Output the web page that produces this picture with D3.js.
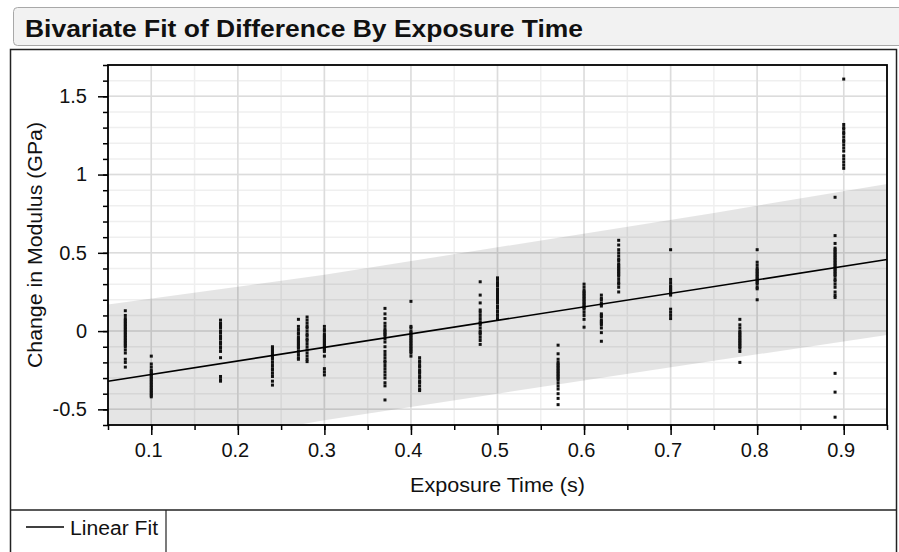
<!DOCTYPE html>
<html>
<head>
<meta charset="utf-8">
<style>
body { margin: 0; background: #fff; font-family: Arial, 'Liberation Sans', sans-serif; }
svg { display: block; }
.axis .domain { display: none; }
.axis text { font-family: Arial, 'Liberation Sans', sans-serif; font-size: 20px; fill: #111; }
.axis line { stroke: #000; stroke-width: 1.5; }
</style>
</head>
<body>
<svg width="899" height="552"></svg>
<script src="https://d3js.org/d3.v7.min.js"></script>
<script>
// exposure time groups and measured differences (GPa)
var groupX = [0.07, 0.1, 0.18, 0.24, 0.27, 0.28, 0.3, 0.37, 0.4, 0.41, 0.48, 0.5, 0.57, 0.6, 0.62, 0.64, 0.7, 0.78, 0.8, 0.89, 0.9];
var groupY = [
  [0.13, 0.1, 0.08, 0.07, 0.06, 0.05, 0.04, 0.03, 0.02, 0.01, 0, -0.01, -0.02, -0.03, -0.04, -0.05, -0.06, -0.07, -0.08, -0.09, -0.1, -0.12, -0.14, -0.18, -0.2, -0.23],
  [-0.16, -0.21, -0.23, -0.25, -0.26, -0.27, -0.28, -0.29, -0.3, -0.31, -0.32, -0.33, -0.34, -0.35, -0.36, -0.37, -0.38, -0.39, -0.4, -0.41, -0.42],
  [0.07, 0.05, 0.04, 0.03, 0.02, 0, -0.01, -0.03, -0.04, -0.05, -0.07, -0.08, -0.1, -0.11, -0.13, -0.17, -0.29, -0.31, -0.32],
  [-0.1, -0.11, -0.12, -0.13, -0.14, -0.15, -0.16, -0.17, -0.18, -0.2, -0.22, -0.24, -0.25, -0.27, -0.29, -0.32, -0.345],
  [0.075, 0.03, 0.01, -0.01, -0.02, -0.04, -0.05, -0.06, -0.07, -0.08, -0.09, -0.1, -0.11, -0.13, -0.15, -0.17, -0.18],
  [0.09, 0.07, 0.05, 0.03, 0.02, 0, -0.02, -0.03, -0.05, -0.06, -0.08, -0.1, -0.12, -0.14, -0.16, -0.18, -0.195],
  [0.03, 0.01, 0, -0.02, -0.03, -0.04, -0.05, -0.06, -0.07, -0.08, -0.09, -0.1, -0.11, -0.12, -0.13, -0.16, -0.24, -0.26, -0.28],
  [0.145, 0.11, 0.08, 0.05, 0.03, 0.01, 0, -0.01, -0.02, -0.03, -0.05, -0.07, -0.1, -0.13, -0.15, -0.17, -0.19, -0.2, -0.22, -0.24, -0.26, -0.28, -0.3, -0.33, -0.35, -0.44],
  [0.19, 0.03, 0.02, 0, -0.01, -0.02, -0.03, -0.04, -0.05, -0.06, -0.07, -0.08, -0.09, -0.1, -0.11, -0.12, -0.13, -0.14, -0.16],
  [-0.17, -0.19, -0.2, -0.22, -0.23, -0.25, -0.26, -0.27, -0.29, -0.3, -0.32, -0.33, -0.35, -0.37, -0.38],
  [0.315, 0.23, 0.18, 0.135, 0.12, 0.1, 0.08, 0.06, 0.05, 0.04, 0.02, 0, -0.01, -0.02, -0.04, -0.06, -0.085],
  [0.34, 0.33, 0.31, 0.3, 0.29, 0.27, 0.26, 0.25, 0.24, 0.23, 0.22, 0.21, 0.2, 0.19, 0.18, 0.16, 0.15, 0.13, 0.12, 0.1, 0.08],
  [-0.09, -0.145, -0.18, -0.2, -0.21, -0.22, -0.23, -0.24, -0.25, -0.26, -0.27, -0.28, -0.29, -0.3, -0.31, -0.33, -0.35, -0.37, -0.4, -0.43, -0.47],
  [0.3, 0.28, 0.26, 0.25, 0.24, 0.23, 0.22, 0.21, 0.2, 0.19, 0.18, 0.17, 0.16, 0.15, 0.14, 0.12, 0.1, 0.075, 0.025],
  [0.23, 0.21, 0.2, 0.18, 0.17, 0.16, 0.11, 0.1, 0.09, 0.07, 0.06, 0.05, 0.04, 0.02, -0.01, -0.065],
  [0.58, 0.55, 0.52, 0.5, 0.48, 0.46, 0.45, 0.43, 0.42, 0.41, 0.4, 0.39, 0.38, 0.37, 0.36, 0.35, 0.33, 0.31, 0.3, 0.28, 0.25],
  [0.52, 0.33, 0.31, 0.29, 0.28, 0.27, 0.26, 0.25, 0.24, 0.23, 0.14, 0.12, 0.1, 0.08],
  [0.075, 0.04, 0.02, 0, -0.01, -0.02, -0.03, -0.04, -0.05, -0.06, -0.07, -0.08, -0.09, -0.1, -0.11, -0.13, -0.2],
  [0.52, 0.44, 0.42, 0.4, 0.39, 0.38, 0.37, 0.36, 0.35, 0.34, 0.33, 0.32, 0.31, 0.3, 0.28, 0.27, 0.2],
  [0.855, 0.61, 0.56, 0.53, 0.52, 0.51, 0.5, 0.49, 0.48, 0.47, 0.46, 0.45, 0.44, 0.43, 0.42, 0.41, 0.4, 0.39, 0.38, 0.37, 0.36, 0.35, 0.33, 0.32, 0.3, 0.28, 0.25, 0.23, 0.215, -0.27, -0.39, -0.55],
  [1.61, 1.32, 1.3, 1.29, 1.27, 1.26, 1.24, 1.22, 1.21, 1.19, 1.17, 1.15, 1.12, 1.1, 1.08, 1.06, 1.04]
];

// linear fit line and shaded band
var fitX = [0.05, 0.95];
var fitY = [-0.32, 0.457];
var bandX = [0.05, 0.3, 0.5, 0.75, 0.95];
var bandUpper = [0.17, 0.36, 0.535, 0.755, 0.94];
var bandLower = [-0.81, -0.57, -0.4, -0.19, -0.025];

var xTicks = [0.1, 0.2, 0.3, 0.4, 0.5, 0.6, 0.7, 0.8, 0.9];
var yTicks = [-0.5, 0, 0.5, 1, 1.5];

var svg = d3.select("svg");
var plot = {left: 108, top: 65, right: 887, bottom: 425};

var x = d3.scaleLinear().domain([0.05, 0.95]).range([plot.left, plot.right]);
var y = d3.scaleLinear().domain([-0.6, 1.7]).range([plot.bottom, plot.top]);

// plain hyphen for negatives, like the original
var fmt = function(d) { return String(d); };

// title bar
svg.append("rect")
    .attr("x", 13.5).attr("y", 7.5)
    .attr("width", 920).attr("height", 38)
    .attr("rx", 4)
    .attr("fill", "#f2f2f2")
    .attr("stroke", "#a8a8a8");
svg.append("text")
    .attr("x", 25).attr("y", 37)
    .attr("font-size", 23).attr("font-weight", "bold")
    .attr("textLength", 558).attr("lengthAdjust", "spacingAndGlyphs")
    .attr("fill", "#111")
    .text("Bivariate Fit of Difference By Exposure Time");

// outer frame and legend separators
svg.append("rect")
    .attr("x", 10.5).attr("y", 49.5)
    .attr("width", 886).attr("height", 520)
    .attr("fill", "none").attr("stroke", "#222").attr("stroke-width", 1.5);
svg.append("line")
    .attr("x1", 10).attr("x2", 897).attr("y1", 510).attr("y2", 510)
    .attr("stroke", "#222").attr("stroke-width", 1.5);
svg.append("line")
    .attr("x1", 166).attr("x2", 166).attr("y1", 510).attr("y2", 560)
    .attr("stroke", "#222").attr("stroke-width", 1.2);

var g = svg.append("g");

g.append("defs").append("clipPath").attr("id", "clip")
  .append("rect")
    .attr("x", plot.left).attr("y", plot.top)
    .attr("width", plot.right - plot.left).attr("height", plot.bottom - plot.top);

// gridlines
var xMinor = d3.range(0.05, 0.951, 0.05);
var yMinor = d3.range(-0.6, 1.701, 0.1);
g.append("g").selectAll("line").data(xMinor).enter().append("line")
    .attr("x1", function(d) { return x(d); }).attr("x2", function(d) { return x(d); })
    .attr("y1", plot.top).attr("y2", plot.bottom)
    .attr("stroke", "#efefef").attr("stroke-width", 1.5);
g.append("g").selectAll("line").data(yMinor).enter().append("line")
    .attr("y1", function(d) { return y(d); }).attr("y2", function(d) { return y(d); })
    .attr("x1", plot.left).attr("x2", plot.right)
    .attr("stroke", "#efefef").attr("stroke-width", 1.5);
g.append("g").selectAll("line").data(xTicks).enter().append("line")
    .attr("x1", function(d) { return x(d); }).attr("x2", function(d) { return x(d); })
    .attr("y1", plot.top).attr("y2", plot.bottom)
    .attr("stroke", "#dcdcdc").attr("stroke-width", 1.5);
g.append("g").selectAll("line").data(yTicks).enter().append("line")
    .attr("y1", function(d) { return y(d); }).attr("y2", function(d) { return y(d); })
    .attr("x1", plot.left).attr("x2", plot.right)
    .attr("stroke", "#dcdcdc").attr("stroke-width", 1.5);

// shaded band
var band = bandX.map(function(d, i) { return {x: d, hi: bandUpper[i], lo: bandLower[i]}; });
g.append("path")
    .datum(band)
    .attr("clip-path", "url(#clip)")
    .attr("fill", "#000")
    .attr("fill-opacity", 0.1)
    .attr("d", d3.area()
      .x(function(d) { return x(d.x); })
      .y0(function(d) { return y(d.lo); })
      .y1(function(d) { return y(d.hi); }));

// points
var pts = [];
groupX.forEach(function(gx, i) {
  groupY[i].forEach(function(v) { pts.push({x: gx, y: v}); });
});
g.append("g").selectAll("rect").data(pts).enter().append("rect")
    .attr("x", function(d) { return x(d.x) - 1.5; })
    .attr("y", function(d) { return y(d.y) - 1.5; })
    .attr("width", 3).attr("height", 3)
    .attr("fill", "#111");

// fit line
g.append("path")
    .datum(fitX.map(function(d, i) { return [d, fitY[i]]; }))
    .attr("fill", "none").attr("stroke", "#000").attr("stroke-width", 1.6)
    .attr("d", d3.line().x(function(d) { return x(d[0]); }).y(function(d) { return y(d[1]); }));

// plot border
g.append("rect")
    .attr("x", plot.left).attr("y", plot.top)
    .attr("width", plot.right - plot.left).attr("height", plot.bottom - plot.top)
    .attr("fill", "none").attr("stroke", "#000").attr("stroke-width", 1.8);

// axes
g.append("g").attr("class", "axis")
    .attr("transform", "translate(0," + plot.bottom + ")")
    .call(d3.axisBottom(x).tickValues(xMinor).tickSize(5).tickFormat(""));
g.append("g").attr("class", "axis")
    .attr("transform", "translate(0," + plot.bottom + ")")
    .call(d3.axisBottom(x).tickValues(xTicks).tickSize(10).tickPadding(8).tickFormat(fmt))
  .selectAll("text")
    .attr("dx", -3);
g.append("g").attr("class", "axis")
    .attr("transform", "translate(" + plot.left + ",0)")
    .call(d3.axisLeft(y).tickValues(yMinor).tickSize(5).tickFormat(""));
g.append("g").attr("class", "axis")
    .attr("transform", "translate(" + plot.left + ",0)")
    .call(d3.axisLeft(y).tickValues(yTicks).tickSize(10).tickPadding(11).tickFormat(fmt));

// axis titles
svg.append("text")
    .attr("x", 497.5).attr("y", 492)
    .attr("text-anchor", "middle").attr("font-size", 20).attr("fill", "#111")
    .attr("textLength", 175).attr("lengthAdjust", "spacingAndGlyphs")
    .text("Exposure Time (s)");
svg.append("text")
    .attr("transform", "translate(41.5,245) rotate(-90)")
    .attr("text-anchor", "middle").attr("font-size", 20).attr("fill", "#111")
    .attr("textLength", 246).attr("lengthAdjust", "spacingAndGlyphs")
    .text("Change in Modulus (GPa)");

// legend
svg.append("line")
    .attr("x1", 26).attr("x2", 64).attr("y1", 527).attr("y2", 527)
    .attr("stroke", "#000").attr("stroke-width", 1.5);
svg.append("text")
    .attr("x", 70).attr("y", 535)
    .attr("font-size", 20).attr("fill", "#111")
    .attr("textLength", 88).attr("lengthAdjust", "spacingAndGlyphs")
    .text("Linear Fit");
</script>
</body>
</html>
